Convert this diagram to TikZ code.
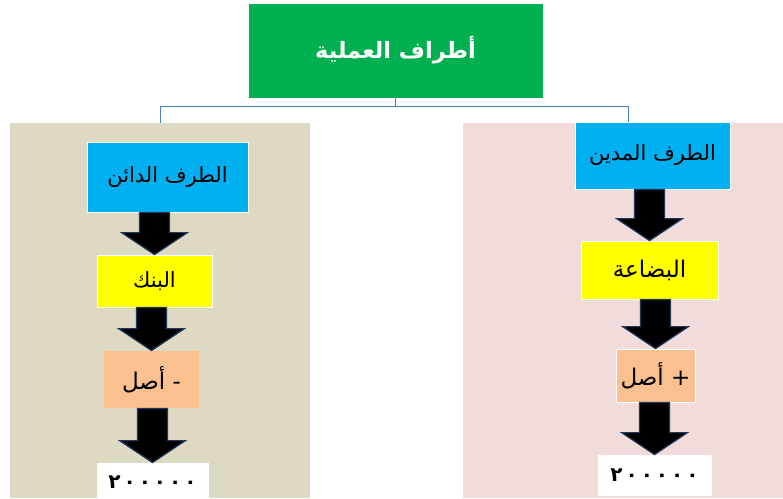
\documentclass[tikz,border=0pt]{standalone}
\usepackage{fontspec}
\TeXXeTstate=1
\newfontfamily\arabicfont[Script=Arabic]{DejaVu Sans}
\newfontfamily\numfont[Script=Arabic,LetterSpace=15]{DejaVu Sans}
\usetikzlibrary{calc}
\definecolor{tanbg}{HTML}{DDD9C3}
\definecolor{pinkbg}{HTML}{F2DCDB}
\definecolor{titlegreen}{HTML}{00B050}
\definecolor{boxblue}{HTML}{00B0F0}
\definecolor{boxyellow}{HTML}{FFFF00}
\definecolor{boxorange}{HTML}{FAC090}
\definecolor{connblue}{HTML}{4F81BD}
\definecolor{arrowedge}{HTML}{23395B}
\tikzset{
  panel/.style={rectangle, inner sep=0pt, draw=none},
  box/.style={rectangle, inner sep=0pt, draw=white, line width=0.8pt, font=\arabicfont},
  conn/.style={draw=connblue, line width=1pt},
  blockarr/.style={fill=black, draw=arrowedge, line width=1.2pt, line join=miter},
}
\newcommand\blockarrow[2]{%
  \draw[blockarr] let \p1=(#1.south), \p2=(#2.north) in
    (\x2-15pt,\y1) -- (\x2+15pt,\y1) -- (\x2+15pt,\y2+22pt) -- (\x2+33pt,\y2+22pt)
    -- (\x2,\y2) -- (\x2-33pt,\y2+22pt) -- (\x2-15pt,\y2+22pt) -- cycle;}
\begin{document}
\begin{tikzpicture}[x=1pt,y=-1pt]
\useasboundingbox (0,0) rectangle (783,498);
\clip (0,0) rectangle (783,498);
% panels
\node[panel, fill=tanbg, minimum width=300pt, minimum height=375pt] (lp) at (160,310.5) {};
\node[panel, fill=pinkbg, minimum width=330pt, minimum height=375pt] (rp) at (628,310.5) {};
% title
\node[box, fill=titlegreen, text=white, minimum width=295pt, minimum height=95pt,
      font=\arabicfont\bfseries\fontsize{22.5}{27}\selectfont] (title) at (395.5,50.5)
      {\beginR أطراف العملية\endR};
% connectors
\draw[conn] (title.south) -- ++(0,8) coordinate (j) -| (lp.north);
\draw[conn] (j) -| (rp.north);
% left column
\node[box, fill=boxblue, minimum width=161pt, minimum height=70pt,
      font=\arabicfont\fontsize{21}{25}\selectfont] (cb) at (167.5,177) {\beginR الطرف الدائن\endR};
\node[box, fill=boxyellow, minimum width=115pt, minimum height=52pt,
      font=\arabicfont\fontsize{21}{25}\selectfont] (ly) at (154.5,281) {\beginR البنك\endR};
\node[box, fill=boxorange, draw=none, minimum width=95pt, minimum height=57pt,
      font=\arabicfont\fontsize{23}{27}\selectfont] (lo) at (151.5,379.5) {\beginR - أصل\endR};
\node[box, fill=white, minimum width=111pt, minimum height=38pt,
      font=\numfont\bfseries\fontsize{20}{24}\selectfont] (lw) at (152.5,482) {٢٠٠٠٠٠};
% right column
\node[box, fill=boxblue, minimum width=155pt, minimum height=67pt,
      font=\arabicfont\fontsize{21}{25}\selectfont] (db) at (652.5,155.5) {\beginR الطرف المدين\endR};
\node[box, fill=boxyellow, minimum width=137pt, minimum height=58pt,
      font=\arabicfont\fontsize{23}{27}\selectfont] (ry) at (649.5,270) {\beginR البضاعة\endR};
\node[box, fill=boxorange, minimum width=79pt, minimum height=53pt,
      font=\arabicfont\fontsize{23}{27}\selectfont] (ro) at (655.5,375.5) {\beginR + أصل\endR};
\node[box, fill=white, minimum width=113pt, minimum height=40pt,
      font=\numfont\bfseries\fontsize{20}{24}\selectfont] (rw) at (654.5,475) {٢٠٠٠٠٠};
% block arrows
\blockarrow{cb}{ly}
\blockarrow{ly}{lo}
\blockarrow{lo}{lw}
\blockarrow{db}{ry}
\blockarrow{ry}{ro}
\blockarrow{ro}{rw}
\end{tikzpicture}
\end{document}
